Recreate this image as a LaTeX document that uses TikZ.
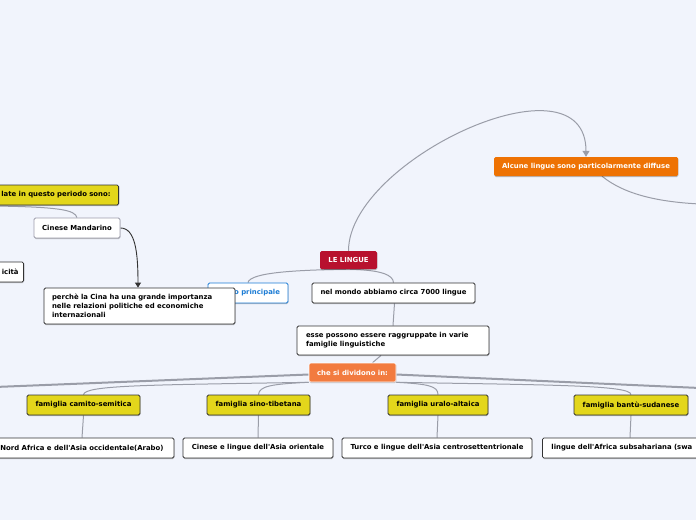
\documentclass[tikz,border=0pt]{standalone}
\usepackage{fontspec}
\newfontfamily\mapfont{DejaVu Sans}
\usetikzlibrary{arrows.meta,calc,shadows}

\definecolor{mapbg}{HTML}{F1F4FC}
\definecolor{linegray}{HTML}{9A9DA8}
\definecolor{boxline}{HTML}{333333}
\definecolor{softline}{HTML}{9C9CAA}
\definecolor{rootred}{HTML}{B8112E}
\definecolor{deeporange}{HTML}{EE7203}
\definecolor{lightorange}{HTML}{F27B3F}
\definecolor{famyellow}{HTML}{E3D61B}
\definecolor{linkblue}{HTML}{1C7CD5}

\pgfdeclarelayer{background}
\pgfsetlayers{background,main}

\tikzset{
  topic/.style={rounded corners=1.5pt, inner sep=0pt, minimum height=20pt,
    font=\mapfont\bfseries\fontsize{6.9}{8.8}\selectfont,
    drop shadow={shadow xshift=0.4pt, shadow yshift=-1pt, opacity=0.25, fill=black}},
  whitebox/.style={topic, draw=boxline, line width=0.8pt, fill=white},
  famigliabox/.style={topic, draw=boxline, line width=0.8pt, fill=famyellow},
  rootbox/.style={topic, fill=rootred, text=white},
  orangebox/.style={topic, fill=deeporange, text=white},
  dividebox/.style={topic, fill=lightorange, text=white, draw=white, line width=0.6pt},
  bluebox/.style={topic, draw=linkblue, line width=0.8pt, fill=white, text=linkblue},
  softbox/.style={topic, draw=softline, line width=0.8pt, fill=white},
  conn/.style={draw=linegray, line width=1pt},
  thickconn/.style={draw=linegray, line width=2pt},
}

\begin{document}
\begin{tikzpicture}[x=1pt,y=-1pt]
    \useasboundingbox (0,0) rectangle (696,520);

    % central topic and main branches
    \node[rootbox, minimum width=57pt, minimum height=18pt] (lingue) at (348.5,260) {LE LINGUE};
    \node[orangebox, minimum width=184pt, minimum height=19pt] (diffuse) at (586,166.5)
        {Alcune lingue sono particolarmente diffuse};
    \node[bluebox, minimum width=80pt, text width=64pt, inner xsep=8pt, align=right] (utilizzo) at (248,293)
        {o principale};
    \node[whitebox, minimum width=163pt] (mondo) at (393.5,293) {nel mondo abbiamo circa 7000 lingue};
    \node[whitebox, minimum height=29pt, text width=174pt, inner xsep=9pt, align=left] (gruppi) at (393,340.5)
        {esse possono essere raggruppate in varie\\famiglie linguistiche};
    \node[dividebox, minimum width=87pt, minimum height=19pt] (dividono) at (352.5,372.5) {che si dividono in:};

    % famiglie linguistiche
    \node[famigliabox, minimum width=113pt] (camito) at (83.5,405) {famiglia camito-semitica};
    \node[famigliabox, minimum width=103pt] (sino) at (258.5,405) {famiglia sino-tibetana};
    \node[famigliabox, minimum width=100pt] (uralo) at (438,405) {famiglia uralo-altaica};
    \node[famigliabox, minimum width=114pt] (bantu) at (631,405) {famiglia bantù-sudanese};

    \node[whitebox, minimum width=184pt] (arabo) at (82,448) {Nord Africa e dell'Asia occidentale(Arabo)};
    \node[whitebox, minimum width=150pt] (cinese) at (258,448) {Cinese e lingue dell'Asia orientale};
    \node[whitebox, minimum width=190pt] (turco) at (437,448) {Turco e lingue dell'Asia centrosettentrionale};
    \node[whitebox, anchor=west, minimum width=190pt, text width=172pt, inner xsep=9pt, align=left] (swahili)
        at (542,448) {lingue dell'Africa subsahariana (swa};

    % left part
    \node[famigliabox, anchor=east, minimum width=160pt, text width=150pt, inner xsep=8pt, align=right] (parlate)
        at (119,195) {late in questo periodo sono:};
    \node[softbox, minimum width=86pt] (mandarino) at (77,228) {Cinese Mandarino};
    \node[whitebox, anchor=east, minimum width=52pt, text width=42pt, inner xsep=5pt, align=right] (unicita)
        at (24,272) {icità};
    \node[whitebox, minimum width=191pt, minimum height=36pt, text width=175pt, inner xsep=8pt, align=left] (perche)
        at (139.5,306) {perchè la Cina ha una grande importanza\\nelle relazioni politiche ed economiche\\internazionali};

    \begin{pgfonlayer}{background}
        \fill[mapbg] (0,0) rectangle (696,520);

        \draw[conn, -{Triangle[length=6pt,width=7pt]}] (lingue.north)
            .. controls +(0,-91) and +(0,-107) .. (diffuse.north);
        \coordinate (destra) at (700,204);
        \draw[conn] ($(diffuse.south)+(16,0)$) .. controls (625,195) and (660,202) .. (destra);

        \draw[conn] (lingue.south) .. controls (300,270) and (250,272) .. (utilizzo.north);
        \draw[conn] (lingue.south) .. controls (382,270) and (393,275) .. (mondo.north);
        \draw[conn] ($(mondo.south)+(1,0)$) -- (gruppi.north);
        \draw[conn] ($(gruppi.south)+(-12,0)$) -- ($(dividono.north)+(20,0)$);

        % thick branches leaving the page
        \coordinate (fuorisx) at (-5,387);
        \coordinate (fuoridx) at (700,388);
        \draw[thickconn] ($(dividono.west)+(0,2)$) -- (fuorisx);
        \draw[thickconn] ($(dividono.east)+(0,2)$) -- (fuoridx);

        \draw[conn] (dividono.south west) .. controls (150,385) and (85,385) .. (camito.north);
        \draw[conn] (dividono.south west) .. controls (272,384) and (259,386) .. (sino.north);
        \draw[conn] (dividono.south east) .. controls (428,384) and (438,386) .. (uralo.north);
        \draw[conn] (dividono.south east) .. controls (550,385) and (631,385) .. (bantu.north);

        \draw[conn] (camito.south) -- (arabo.north);
        \draw[conn] (sino.south) -- (cinese.north);
        \draw[conn] (uralo.south) -- (turco.north);
        \draw[conn] (bantu.south) -- ($(swahili.north west)+(88,0)$);

        \coordinate (sinistra) at (-5,206);
        \draw[conn] (mandarino.north) .. controls (75,210) and (60,207) .. (sinistra);
        \draw[draw=boxline, line width=0.9pt, -{Triangle[length=5pt,width=6pt]}] (mandarino.east)
            .. controls +(15,0) and +(0,-35) .. ($(perche.north)+(-1.5,0)$);
    \end{pgfonlayer}
\end{tikzpicture}
\end{document}
